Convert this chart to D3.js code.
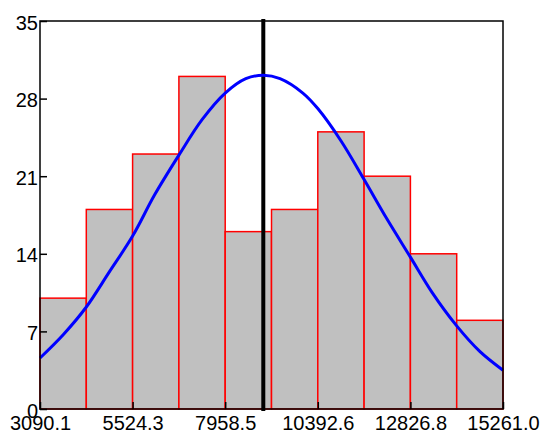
<!DOCTYPE html>
<html>
<head>
<meta charset="utf-8">
<script src="https://cdn.jsdelivr.net/npm/d3@7"></script>
<style>
  body { margin: 0; background: #fff; }
  svg { display: block; font-family: "Liberation Sans", Arial, sans-serif; }
</style>
</head>
<body>
<div id="chart"></div>
<script>
// data ----------------------------------------------------------------------
const binEdges = [3090.1, 4307.2, 5524.3, 6741.4, 7958.5, 9175.6, 10392.6, 11609.7, 12826.8, 14043.9, 15261.0];
const counts = [10, 18, 23, 30, 16, 18, 25, 21, 14, 8];
const xTicks = [3090.1, 5524.3, 7958.5, 10392.6, 12826.8, 15261.0];
const yTicks = [0, 7, 14, 21, 28, 35];
const meanValue = 8960;

// fitted curve
const curveX = [3090.1, 3700, 4307.2, 4900, 5524.3, 6100, 6741.4, 7350, 7958.5, 8500, 8960,
    9400, 10000, 10392.6, 11000, 11609.7, 12200, 12826.8, 13400, 14043.9, 14650, 15261.0];
const curveY = [4.6, 6.7, 9.2, 12.3, 15.6, 19.3, 22.9, 26.1, 28.5, 29.8, 30.1,
    29.8, 28.5, 27.1, 24.2, 20.7, 17.2, 13.7, 10.5, 7.5, 5.2, 3.5];

// layout ------------------------------------------------------------------
const width = 542;
const height = 436;
const margin = { top: 21, right: 39, bottom: 27, left: 40 };

const svg = d3.select('#chart')
    .append('svg')
    .attr('width', width)
    .attr('height', height);

const xScale = d3.scaleLinear()
    .domain([binEdges[0], binEdges[binEdges.length - 1]])
    .range([margin.left, width - margin.right]);

const yScale = d3.scaleLinear()
    .domain([0, 35])
    .range([height - margin.bottom, margin.top]);

// bars
svg.append('g')
    .selectAll('rect')
    .data(counts)
    .join('rect')
    .attr('x', (d, i) => xScale(binEdges[i]))
    .attr('y', d => yScale(d))
    .attr('width', (d, i) => xScale(binEdges[i + 1]) - xScale(binEdges[i]))
    .attr('height', d => yScale(0) - yScale(d))
    .attr('fill', '#c0c0c0')
    .attr('stroke', '#ff0000')
    .attr('stroke-width', 1.5);

// mean line
svg.append('line')
    .attr('x1', xScale(meanValue))
    .attr('x2', xScale(meanValue))
    .attr('y1', yScale(35) - 2)
    .attr('y2', yScale(0) + 2)
    .attr('stroke', '#000')
    .attr('stroke-width', 4);

// normal curve
const line = d3.line()
    .x((d, i) => xScale(curveX[i]))
    .y(d => yScale(d))
    .curve(d3.curveCatmullRom);

svg.append('path')
    .datum(curveY)
    .attr('d', line)
    .attr('fill', 'none')
    .attr('stroke', '#0000ff')
    .attr('stroke-width', 3);

// axes (ticks pointing inward)
const xAxis = svg.append('g')
    .attr('transform', `translate(0,${yScale(0)})`)
    .call(d3.axisBottom(xScale).tickValues(xTicks).tickSizeInner(-7).tickSizeOuter(0)
        .tickFormat(d3.format('.1f')));
xAxis.select('.domain').remove();
xAxis.selectAll('line').attr('stroke', '#000').attr('stroke-width', 1.5);
xAxis.selectAll('text')
    .attr('y', 7)
    .attr('dy', '0.71em')
    .attr('font-size', '20px')
    .attr('fill', '#000');

const yAxis = svg.append('g')
    .attr('transform', `translate(${margin.left},0)`)
    .call(d3.axisLeft(yScale).tickValues(yTicks).tickSizeInner(-7).tickSizeOuter(0));
yAxis.select('.domain').remove();
yAxis.selectAll('line').attr('stroke', '#000').attr('stroke-width', 1.5);
yAxis.selectAll('text')
    .attr('x', -2)
    .attr('dy', '0.4em')
    .attr('font-size', '20px')
    .attr('fill', '#000');

// frame
svg.append('rect')
    .attr('x', margin.left)
    .attr('y', margin.top)
    .attr('width', width - margin.left - margin.right)
    .attr('height', height - margin.top - margin.bottom)
    .attr('fill', 'none')
    .attr('stroke', '#000')
    .attr('stroke-width', 1.5);
</script>
</body>
</html>
